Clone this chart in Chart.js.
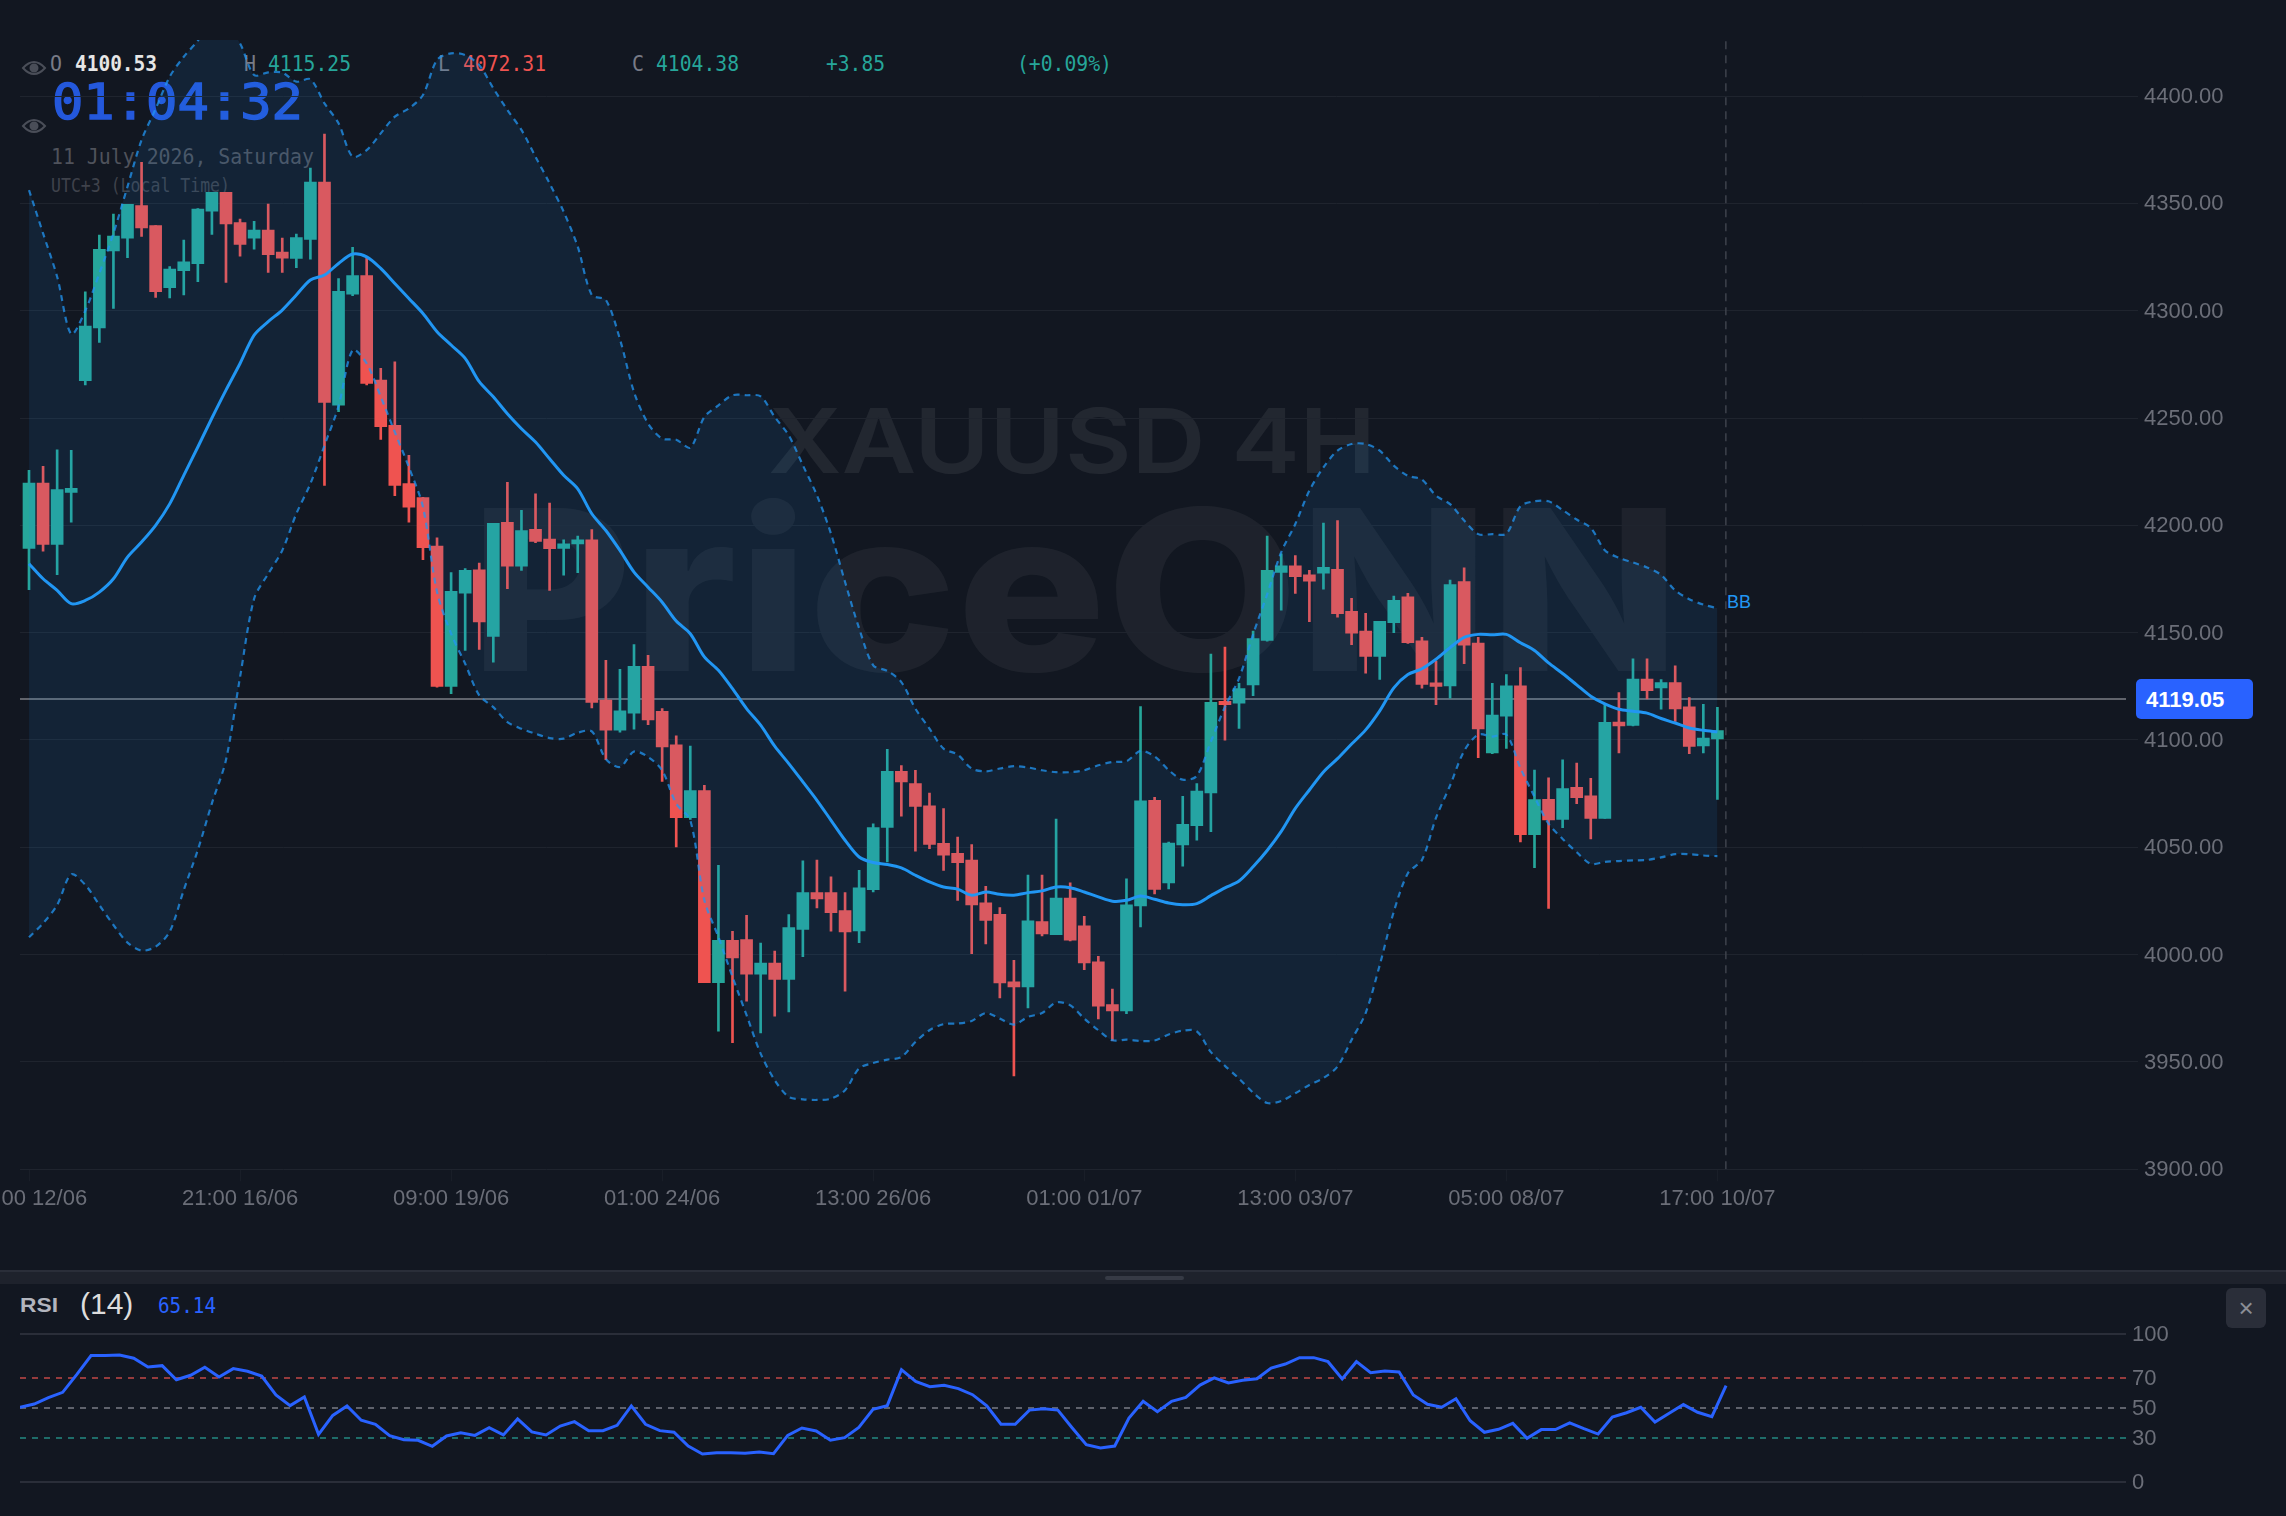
<!DOCTYPE html>
<html>
<head>
<meta charset="utf-8">
<title>XAUUSD 4H</title>
<script src="https://cdn.jsdelivr.net/npm/chart.js@4/dist/chart.umd.min.js"></script>
<style>
  html, body { margin: 0; padding: 0; background: #121721; width: 2286px; height: 1516px; overflow: hidden; }
  svg, canvas { position: absolute; left: 0; }
  #overlay { top: 0; }
  #priceChart { top: 0; }
  #rsiChart { top: 1284px; }
  .mono { font-family: "DejaVu Sans Mono", monospace; }
  .sans { font-family: "Liberation Sans", Arial, sans-serif; }
</style>
</head>
<body>

<!-- header, watermark and separator sit under the canvases, the band fill tints them -->
<svg id="overlay" width="2286" height="1516">
  <rect x="0" y="1270" width="2286" height="14" fill="#1e222c"/>
  <rect x="0" y="1270" width="2286" height="2" fill="#2a2e39"/>
  <rect x="1105" y="1276" width="79" height="4" rx="2" fill="#363a45"/>

  <g font-family="Inter">
    <text x="768" y="473" font-size="90" font-weight="600" fill="rgba(255,255,255,0.07)" textLength="608" lengthAdjust="spacingAndGlyphs">XAUUSD 4H</text>
    <text x="470" y="671" font-size="224" font-weight="800" fill="rgba(255,255,255,0.05)" textLength="1210" lengthAdjust="spacingAndGlyphs">PriceONN</text>
  </g>

  <g fill="none" stroke="#4a4e58" stroke-width="2">
    <path d="M23 68 Q34 56 45 68 Q34 80 23 68 Z"/>
    <circle cx="34" cy="68" r="3.5" fill="#4a4e58"/>
    <path d="M23 126 Q34 114 45 126 Q34 138 23 126 Z"/>
    <circle cx="34" cy="126" r="3.5" fill="#4a4e58"/>
  </g>

  <g class="mono" font-size="21" lengthAdjust="spacingAndGlyphs">
    <text x="50" y="71" fill="#787b86" textLength="12" lengthAdjust="spacingAndGlyphs">O</text>
    <text x="75" y="71" fill="#e6e6e6" font-weight="700" textLength="82" lengthAdjust="spacingAndGlyphs">4100.53</text>
    <text x="244" y="71" fill="#787b86" textLength="12" lengthAdjust="spacingAndGlyphs">H</text>
    <text x="268" y="71" fill="#26a69a" textLength="83" lengthAdjust="spacingAndGlyphs">4115.25</text>
    <text x="438" y="71" fill="#787b86" textLength="12" lengthAdjust="spacingAndGlyphs">L</text>
    <text x="463" y="71" fill="#ef5350" textLength="83" lengthAdjust="spacingAndGlyphs">4072.31</text>
    <text x="632" y="71" fill="#787b86" textLength="12" lengthAdjust="spacingAndGlyphs">C</text>
    <text x="656" y="71" fill="#26a69a" textLength="83" lengthAdjust="spacingAndGlyphs">4104.38</text>
    <text x="826" y="71" fill="#26a69a" textLength="59" lengthAdjust="spacingAndGlyphs">+3.85</text>
    <text x="1017" y="71" fill="#26a69a" textLength="95" lengthAdjust="spacingAndGlyphs">(+0.09%)</text>
  </g>

  <text class="mono" x="52" y="119" font-size="49" fill="#2458dc" stroke="#2458dc" stroke-width="1.4" textLength="251" lengthAdjust="spacingAndGlyphs">01:04:32</text>
  <text class="mono" x="51" y="164" font-size="22" fill="#4f525b" textLength="263" lengthAdjust="spacingAndGlyphs">11 July 2026, Saturday</text>
  <text class="mono" x="51" y="192" font-size="19" fill="#3f424b" textLength="179" lengthAdjust="spacingAndGlyphs">UTC+3 (Local Time)</text>

  <text class="sans" x="1727" y="608" font-size="18" fill="#2196f3">BB</text>

  <rect x="2136" y="679" width="117" height="40" rx="5" fill="#2962ff"/>
  <text class="sans" x="2146" y="707" font-size="22" font-weight="700" fill="#ffffff">4119.05</text>

  <text class="sans" x="20" y="1312" font-size="21" font-weight="700" fill="#b2b5be" textLength="38" lengthAdjust="spacingAndGlyphs">RSI</text>
  <text class="sans" x="80" y="1314" font-size="30" fill="#dddddd">(14)</text>
  <text class="mono" x="158" y="1313" font-size="21" fill="#2962ff" textLength="58" lengthAdjust="spacingAndGlyphs">65.14</text>

  <rect x="2226" y="1288" width="40" height="40" rx="6" fill="#2a2e39"/>
  <text class="sans" x="2246" y="1317" font-size="26" fill="#8b8e96" text-anchor="middle">×</text>
</svg>

<canvas id="priceChart" width="2286" height="1270"></canvas>
<canvas id="rsiChart" width="2286" height="232"></canvas>

<script>
// one tick label every 15 candles
const timeLabels = ['09:00 12/06', '21:00 16/06', '09:00 19/06', '01:00 24/06', '13:00 26/06', '01:00 01/07', '13:00 03/07', '05:00 08/07', '17:00 10/07'];
const tickEvery = 15;

const opens = [
  4189.3, 4219.7, 4191.1, 4215.3, 4267.4, 4292, 4327.8, 4333.8, 4349, 4339.6,
  4310.7, 4318.6, 4321.9, 4346.4, 4355.1, 4341.1, 4333.8, 4337.6, 4327.3, 4324.4,
  4333.2, 4359.9, 4256, 4307.7, 4316.3, 4267.7, 4246.6, 4219.4, 4212.9, 4190.3,
  4125, 4168.4, 4179.3, 4148.3, 4201.4, 4181, 4198.1, 4193.6, 4189.3, 4191.4,
  4193.3, 4118.6, 4104.6, 4112.5, 4134.3, 4113.3, 4097.8, 4063.8, 4076.4, 3987,
  4006.7, 4007, 3990.9, 3996.1, 3988.5, 4011.7, 4028.9, 4028.9, 4020.5, 4011,
  4030.3, 4059.3, 4085.4, 4079.7, 4069.3, 4051.9, 4047.2, 4044.1, 4024.1, 4018.8,
  3987.3, 3985, 4015.4, 4009.3, 4026.3, 4013.4, 3996.6, 3976.7, 3973.8, 4022.7,
  4071.9, 4033.4, 4051.1, 4060.1, 4075.3, 4118, 4117.2, 4125.7, 4146.4, 4178.1,
  4181.1, 4176.9, 4177.7, 4179.5, 4159.9, 4150.7, 4138.9, 4154.6, 4166.7, 4146.2,
  4126.6, 4125.2, 4173.8, 4145.1, 4094, 4111.1, 4125.2, 4055.9, 4072.4, 4063,
  4078, 4074, 4063.5, 4108.4, 4106.8, 4128.4, 4124.3, 4126.8, 4115.4, 4097.2,
  4100.53
];

const highs = [
  4225.6, 4227.5, 4235.2, 4234.9, 4308.8, 4335.2, 4345, 4349.5, 4369.1, 4339.6,
  4320.5, 4332.9, 4347.6, 4355.1, 4355.1, 4342.7, 4341.6, 4349.7, 4333.8, 4335.7,
  4366.4, 4382.3, 4315, 4329.5, 4324.4, 4273.1, 4276.2, 4232.6, 4213, 4194.2,
  4178, 4179.8, 4182.4, 4200.9, 4220, 4207, 4214.7, 4210.4, 4193.3, 4195,
  4198, 4137.1, 4132.9, 4144.5, 4139.4, 4114.6, 4101.9, 4097.2, 4078.9, 4041.6,
  4010.9, 4018.3, 4005.4, 4001.7, 4018.7, 4043.7, 4044, 4036.2, 4028.9, 4039.3,
  4061, 4095.7, 4088.1, 4085.9, 4075.3, 4068, 4054.8, 4051.3, 4031.8, 4021.9,
  3997.4, 4037.1, 4037.1, 4063.2, 4033.4, 4017.9, 3999.2, 3983.9, 4035.3, 4115.6,
  4073.3, 4052.4, 4073.8, 4079.7, 4140, 4143.3, 4126.4, 4150.7, 4195, 4186.7,
  4185.9, 4179, 4201, 4202.2, 4166, 4159, 4155.3, 4167, 4168.3, 4147.8,
  4136.8, 4174.5, 4180.2, 4147.8, 4126.4, 4130.5, 4133.7, 4086, 4082.4, 4090.8,
  4089.2, 4082.1, 4116.6, 4122.1, 4137.8, 4137.8, 4128.2, 4134.6, 4119.7, 4116.6,
  4115.25
];

const lows = [
  4170, 4188, 4177, 4201.5, 4265.4, 4285.2, 4301.1, 4324.7, 4334.6, 4306.2,
  4305.9, 4307.3, 4313.5, 4335.5, 4313.2, 4325.4, 4328.7, 4317.8, 4317.8, 4320,
  4324, 4218.6, 4253, 4307, 4265.4, 4240, 4213.8, 4201.5, 4184, 4124.6,
  4121.6, 4141.7, 4142.2, 4136.3, 4170.5, 4179, 4191.9, 4169.7, 4176.8, 4178,
  4114.9, 4090.8, 4103.7, 4105, 4107.1, 4080.7, 4050.2, 4063, 3987, 3964.3,
  3959, 3978.3, 3963.5, 3971.3, 3973.3, 3999, 4021.8, 4010.9, 3983, 4005.6,
  4029.2, 4043.2, 4064.5, 4048.2, 4049.4, 4039.2, 4025.3, 4000.5, 4005, 3979.8,
  3943.5, 3975.2, 4008.7, 4009.3, 4006.4, 3993, 3970, 3960, 3972.5, 4012.9,
  4028.3, 4030.6, 4041.2, 4053.3, 4057.3, 4099.9, 4105.4, 4120.7, 4146, 4160.5,
  4168.3, 4155.1, 4170.3, 4157.2, 4144.4, 4131.1, 4128.2, 4150, 4145, 4124.1,
  4116.4, 4119.5, 4135.5, 4091.8, 4093.6, 4096.1, 4052.5, 4040.5, 4021.5, 4059.2,
  4070.3, 4053.9, 4063.5, 4094, 4106.5, 4119.1, 4114.3, 4108.6, 4093.6, 4094,
  4072.31
];

const closes = [
  4219.7, 4191.1, 4216.6, 4217.2, 4292.8, 4328.6, 4334.8, 4349.5, 4338.6, 4308.8,
  4319.4, 4322.8, 4347.3, 4355.1, 4340.4, 4330.9, 4337.6, 4326.1, 4324.5, 4334.1,
  4359.9, 4257.3, 4309, 4316.3, 4266.1, 4246, 4218.6, 4208.5, 4189.6, 4125,
  4169.2, 4179, 4155, 4200.9, 4181, 4197.5, 4192.5, 4189.1, 4191.4, 4193.3,
  4117.5, 4104.6, 4113.6, 4134.3, 4109.4, 4096.8, 4063.8, 4076.4, 3987, 4006.7,
  3998.5, 3990.9, 3996.1, 3988.5, 4012.6, 4028.9, 4026, 4019.6, 4010.6, 4031.1,
  4059.2, 4085.4, 4080.5, 4069, 4051.4, 4046.3, 4042.9, 4023.2, 4016, 3986.8,
  3985, 4015.7, 4009.6, 4026.3, 4006.7, 3996.1, 3976, 3973.8, 4023.2, 4071.6,
  4030.4, 4052, 4060.7, 4076.2, 4117.5, 4116.4, 4123.9, 4147.3, 4179, 4181.1,
  4176.1, 4174, 4180.4, 4158.8, 4149.8, 4138.9, 4155.3, 4165.1, 4145.3, 4125.9,
  4125, 4172.4, 4144.2, 4105.2, 4111.6, 4125.2, 4055.9, 4072.2, 4062.8, 4077.4,
  4073.1, 4063.5, 4108.2, 4106.5, 4128.4, 4123, 4126.8, 4114.5, 4097, 4100.9,
  4104.38
];

// Bollinger bands
const bbUpper = [
  4356.2, 4336, 4315.8, 4289.1, 4300, 4317.4, 4336, 4357.8, 4379.5, 4394,
  4409, 4418.3, 4425.8, 4436, 4433, 4424.5, 4409.8, 4411, 4410.9, 4406.7,
  4407.8, 4396.6, 4387.3, 4371.7, 4374.8, 4382.6, 4390.4, 4394.2, 4400.5, 4416.8,
  4419.9, 4419.1, 4414.4, 4403.6, 4393.5, 4384.2, 4371.7, 4359.3, 4346.1, 4329.8,
  4307.3, 4305, 4286.7, 4262.1, 4247.4, 4240.4, 4239.9, 4236.2, 4250.5, 4255.9,
  4260.6, 4260.6, 4260.1, 4250.5, 4241.9, 4228, 4214, 4196.1, 4173.6, 4152,
  4134.8, 4132.2, 4127, 4114.6, 4105.3, 4096, 4093.2, 4086.7, 4085.4, 4086.7,
  4087.8, 4087.2, 4085.9, 4085, 4085, 4085.9, 4088.2, 4089.8, 4090.1, 4094.9,
  4092.4, 4086, 4081.5, 4083.3, 4099.3, 4115.4, 4128.7, 4149.2, 4167.9, 4187.5,
  4200.6, 4216.2, 4227, 4234.8, 4237.9, 4237.9, 4234.8, 4227.8, 4223.1, 4221.3,
  4213.8, 4209.9, 4202.3, 4195.9, 4195.9, 4196.1, 4208.9, 4211.2, 4211.2, 4207.1,
  4202.7, 4198.8, 4188.4, 4184.9, 4182.7, 4180.4, 4176.9, 4169.7, 4165.6, 4163.1,
  4161.4
];

const bbMiddle = [
  4182.1, 4175.1, 4169.7, 4163.5, 4165, 4168.9, 4175.1, 4185.2, 4192.2, 4200,
  4210, 4223.3, 4236.5, 4250, 4263, 4275.4, 4288.6, 4294.9, 4300.3, 4307.3,
  4314.3, 4316.6, 4322, 4326.4, 4325.1, 4319.7, 4312.7, 4305.7, 4298.7, 4290.2,
  4284, 4277.8, 4266.9, 4259.9, 4252, 4245, 4238.8, 4231, 4223.3, 4217,
  4205.4, 4197.6, 4188.3, 4178.2, 4171.2, 4164.2, 4155.4, 4149.5, 4138.7, 4132.5,
  4123.9, 4114.6, 4106.9, 4097.1, 4089, 4080.5, 4071.9, 4062.6, 4053.3, 4045.5,
  4042.9, 4042, 4040.4, 4037, 4033.9, 4031.5, 4030.5, 4027.7, 4029.2, 4028.1,
  4027.7, 4028.9, 4029.7, 4031.5, 4031.2, 4029.2, 4026.9, 4024.9, 4025.3, 4027.3,
  4025.8, 4024.1, 4023.3, 4023.8, 4027.5, 4031.1, 4034.3, 4040.9, 4048.5, 4057.4,
  4068.1, 4076.7, 4085.1, 4091.3, 4098.1, 4104.7, 4113.6, 4124.3, 4130.5, 4133.2,
  4137.6, 4143, 4147.8, 4149.2, 4149, 4149.2, 4145.3, 4141.7, 4135.9, 4131,
  4125.7, 4120.4, 4116.8, 4114.3, 4113.4, 4112.5, 4110, 4107.9, 4105.6, 4104.5,
  4103.8
];

const bbLower = [
  4008.1, 4014.6, 4023.1, 4037.4, 4032.5, 4023.1, 4013.8, 4005.6, 4001.9, 4003.7,
  4010.7, 4030.1, 4048.8, 4070.5, 4090.7, 4129.3, 4165.8, 4177.4, 4188.3, 4205.4,
  4219.4, 4237.2, 4255.5, 4281.6, 4275.4, 4259.9, 4243.4, 4227.1, 4208.5, 4168.9,
  4149.5, 4135.5, 4120.8, 4115.3, 4108.3, 4105.2, 4102.9, 4100.9, 4100.6, 4103.4,
  4104, 4091.1, 4087.4, 4094.6, 4092.1, 4085.8, 4070.3, 4062.6, 4025.3, 4008.2,
  3989.6, 3971.8, 3953.9, 3941.5, 3933.7, 3932.6, 3932.3, 3932.9, 3936.8, 3947,
  3949.5, 3951.1, 3952.3, 3959.3, 3964.8, 3967.6, 3967.9, 3969.1, 3972.8, 3970.2,
  3967.4, 3971, 3972.8, 3977.7, 3976.4, 3970.2, 3964.8, 3960.1, 3960.4, 3959.8,
  3960, 3962.8, 3964.6, 3964.3, 3954.6, 3948.2, 3942.2, 3935.7, 3930.9, 3931.8,
  3935.4, 3939.3, 3942.5, 3947.9, 3960.3, 3972.8, 3995.1, 4020, 4037.9, 4044.1,
  4063.7, 4078.8, 4094.9, 4102.5, 4101.6, 4102.5, 4086.9, 4073.5, 4061, 4053.9,
  4047.7, 4042.3, 4043.2, 4043.6, 4043.9, 4044.1, 4045.3, 4046.8, 4046.8, 4046.2,
  4045.9
];

const rsiValues = [
  50.5, 52.7, 57, 60.6, 72.7, 85.4, 85.4, 85.8, 83.6, 77.7,
  78.6, 69.1, 72.1, 77.5, 70.9, 76.6, 74.8, 71.6, 58.8, 51.6,
  57.4, 32.2, 45, 51.4, 41.7, 39, 31.3, 28.6, 28.2, 24.1,
  31.1, 33.3, 31.5, 36.7, 31.8, 42.6, 33.8, 31.8, 37.8, 40.8,
  34.7, 34.7, 38.3, 51.4, 39, 34.7, 33.6, 24.3, 18.9, 19.8,
  19.8, 19.4, 20.3, 19.1, 31.5, 36.5, 34.5, 28.2, 30, 36.9,
  49.1, 51.6, 75.9, 68, 64.4, 65.3, 63.1, 59, 51.4, 39,
  39, 48.6, 49.5, 48.6, 36.7, 25.2, 23, 24.3, 43.2, 54.5,
  47.5, 54.5, 57.2, 65.5, 70.3, 66.9, 68.7, 69.8, 77, 79.7,
  84, 84, 81.3, 69.6, 81.3, 73.9, 75, 74.3, 58.8, 52.5,
  50.5, 56.3, 41.4, 33.6, 35.6, 39.6, 29.5, 35.4, 35.4, 39.9,
  36, 32.4, 43.9, 46.8, 50.5, 40.5, 46.4, 52.3, 47.1, 44.1,
  65.14
];

const priceTicksStep = 50;
const lastPrice = 4119.05;
const rsiTicks = [100, 70, 50, 30, 0];

const bgGrid = '#1f242e';
const tickColor = '#6b6e78';
const tickFont = { family: '"Liberation Sans", Arial, sans-serif', size: 22 };
const teal = '#26a69a';
const red = '#ef5350';
const bbBlue = '#2196f3';

Chart.defaults.animation = false;

// y range and x range are set so the scales land on the same pixels as the axis area
const yMin = 3900;
const yMax = 4426.1;
const xMin = -0.64;
const xMax = 149.04;
const crosshairX = 120.6;

const asPoints = arr => arr.map((v, i) => ({ x: i, y: v }));
const candleColors = closes.map((c, i) => (c >= opens[i] ? teal : red));

new Chart(document.getElementById('priceChart'), {
  type: 'bar',
  data: {
    datasets: [
      {
        // wicks, a thin floating bar from low to high
        type: 'bar',
        data: lows.map((low, i) => ({ x: i, y: [low, highs[i]] })),
        backgroundColor: candleColors,
        barThickness: 2,
        grouped: false,
        order: 6
      },
      {
        // candle bodies
        type: 'bar',
        data: opens.map((open, i) => ({ x: i, y: [open, closes[i]] })),
        backgroundColor: candleColors,
        barThickness: 12,
        grouped: false,
        order: 5
      },
      {
        // band fill goes over the candles, that's why reds look dull inside the band
        type: 'line',
        data: asPoints(bbUpper),
        borderColor: 'rgba(33,150,243,0.75)',
        borderWidth: 2.2,
        borderDash: [6, 5],
        backgroundColor: 'rgba(33,150,243,0.1)',
        fill: '+1',
        pointRadius: 0,
        tension: 0.3,
        order: 3
      },
      {
        type: 'line',
        data: asPoints(bbLower),
        borderColor: 'rgba(33,150,243,0.75)',
        borderWidth: 2.2,
        borderDash: [6, 5],
        fill: false,
        pointRadius: 0,
        tension: 0.3,
        order: 2
      },
      {
        type: 'line',
        data: asPoints(bbMiddle),
        borderColor: bbBlue,
        borderWidth: 3,
        fill: false,
        pointRadius: 0,
        tension: 0.3,
        order: 1
      },
      {
        // last price line
        type: 'line',
        data: [{ x: xMin, y: lastPrice }, { x: xMax, y: lastPrice }],
        borderColor: '#7d7f86',
        borderWidth: 1.5,
        fill: false,
        pointRadius: 0,
        order: 8
      },
      {
        // crosshair
        type: 'line',
        data: [{ x: crosshairX, y: yMin }, { x: crosshairX, y: yMax }],
        borderColor: '#3e424c',
        borderWidth: 1.5,
        borderDash: [8, 6],
        fill: false,
        pointRadius: 0,
        order: 8
      }
    ]
  },
  options: {
    responsive: false,
    layout: { padding: { left: 20, top: 40, right: 0, bottom: 0 } },
    plugins: { legend: { display: false }, tooltip: { enabled: false } },
    scales: {
      x: {
        type: 'linear',
        min: xMin,
        max: xMax,
        offset: false,
        border: { display: false },
        grid: { drawOnChartArea: false, offset: false, color: bgGrid, tickColor: '#191e28', tickLength: 12 },
        ticks: {
          autoSkip: false,
          maxRotation: 0,
          padding: 4.5,
          color: tickColor,
          font: tickFont,
          callback: v => timeLabels[v / tickEvery]
        },
        afterBuildTicks: axis => {
          axis.ticks = timeLabels.map((_, k) => ({ value: k * tickEvery }));
        },
        afterFit: axis => {
          // first label is allowed to run off the left edge
          axis.paddingLeft = 0;
          axis.paddingRight = 0;
          axis.height = 100.7;
        }
      },
      y: {
        position: 'right',
        min: yMin,
        max: yMax,
        border: { display: false },
        grid: { color: bgGrid, tickLength: 12 },
        ticks: {
          stepSize: priceTicksStep,
          includeBounds: false,
          autoSkip: false,
          padding: 6,
          labelOffset: 1,
          color: tickColor,
          font: tickFont,
          callback: v => v.toFixed(2)
        },
        afterFit: axis => { axis.width = 160; }
      }
    }
  }
});

// 70 / 50 / 30 dashed levels, 100 and 0 solid
const rsiLevelColor = { 100: '#2a2e39', 70: 'rgba(239,83,80,0.6)', 50: '#5f626c', 30: 'rgba(38,166,154,0.6)', 0: '#2a2e39' };

new Chart(document.getElementById('rsiChart'), {
  type: 'line',
  data: {
    datasets: [{
      data: asPoints(rsiValues),
      borderColor: '#2962ff',
      borderWidth: 3,
      fill: false,
      pointRadius: 0,
      tension: 0
    }]
  },
  options: {
    responsive: false,
    layout: { padding: { left: 20, top: 50, right: 0, bottom: 34 } },
    plugins: { legend: { display: false }, tooltip: { enabled: false } },
    scales: {
      x: { type: 'linear', min: 0, max: 148.13, display: false },
      y: {
        position: 'right',
        min: 0,
        max: 100,
        border: {
          display: false,
          dash: ctx => (ctx.tick && ctx.tick.value > 0 && ctx.tick.value < 100 ? [6, 6] : [])
        },
        grid: {
          drawTicks: false,
          lineWidth: 2,
          color: ctx => (ctx.tick ? rsiLevelColor[ctx.tick.value] : '#2a2e39')
        },
        ticks: { autoSkip: false, padding: 6, labelOffset: 1, color: tickColor, font: tickFont },
        afterBuildTicks: axis => {
          axis.ticks = rsiTicks.map(v => ({ value: v }));
        },
        afterFit: axis => { axis.width = 160; }
      }
    }
  }
});
</script>
</body>
</html>
